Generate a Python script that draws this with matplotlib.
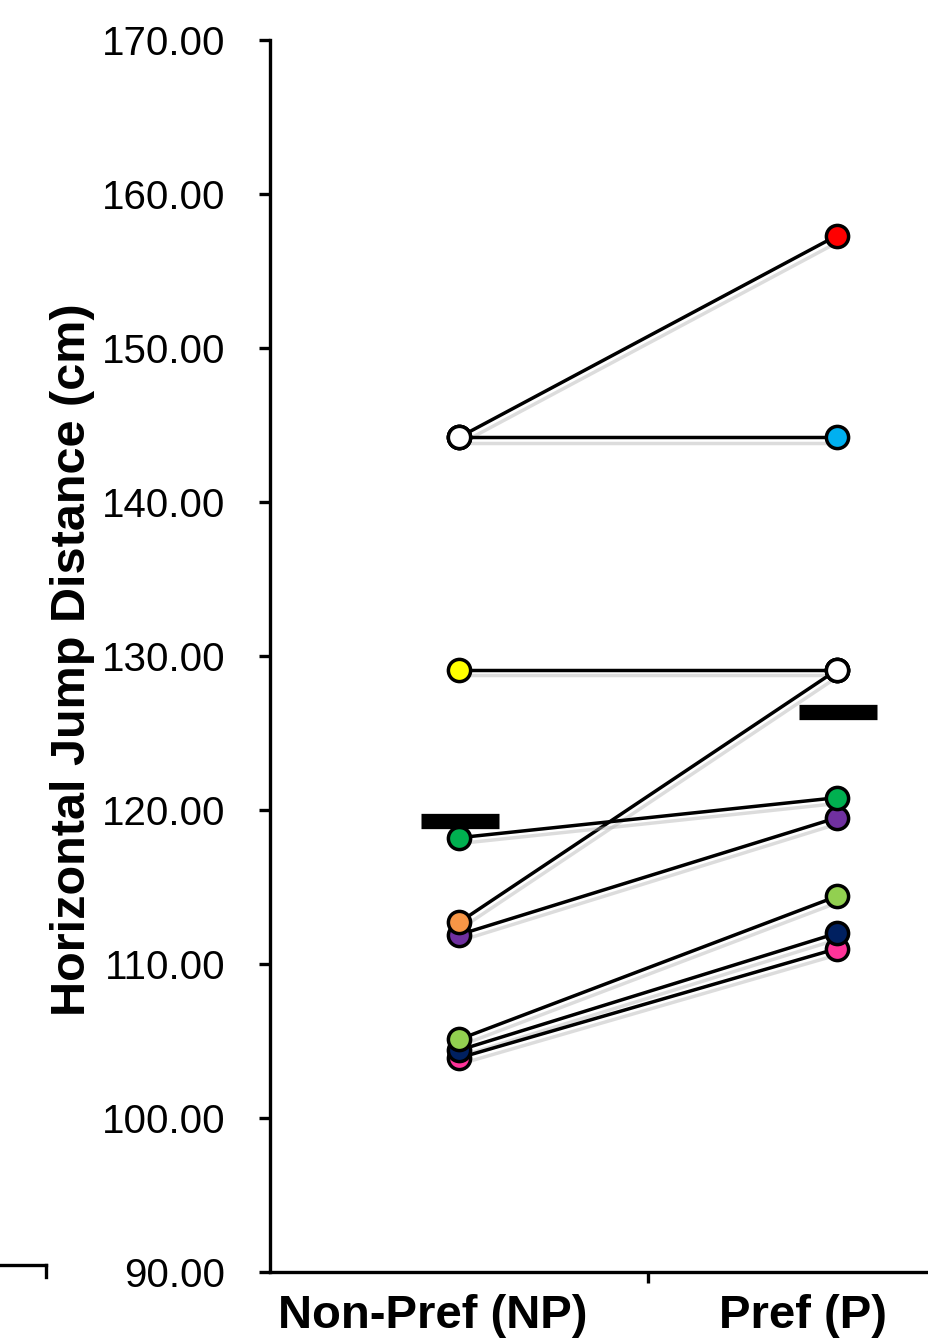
import matplotlib
matplotlib.use("Agg")
import matplotlib.pyplot as plt
import matplotlib.patheffects as pe
from matplotlib.lines import Line2D
from matplotlib.transforms import ScaledTranslation
import numpy as np

plt.rcParams['font.family'] = ['Liberation Sans', 'DejaVu Sans']

# 数据：每位受试者的非优势侧 / 优势侧跳远距离 (cm)
categories = ["Non-Pref (NP)", "Pref (P)"]
np_values = [144.2, 144.2, 129.1, 112.7, 118.2, 111.9, 105.1, 104.4, 103.9]
p_values = [157.3, 144.2, 129.1, 129.1, 120.8, 119.5, 114.4, 112.0, 111.0]
subject_colors = ["#FF0000", "#00B0F0", "#FFFF00", "#F79646", "#00B050",
                  "#7030A0", "#92D050", "#002060", "#FF3399"]
# 重叠点用白色空心圈标记
overlap_np = [144.2]
overlap_p = [129.1]

fig = plt.figure(figsize=(9.29, 13.39), dpi=100)
ax = fig.add_axes([270 / 929, 67 / 1339, 756 / 929, 1232 / 1339])

x_np, x_p = 0.5, 1.5
shadow = [pe.SimpleLineShadow(offset=(2, -4), shadow_color="0.7", alpha=0.45), pe.Normal()]

# 连线
for a, b in zip(np_values, p_values):
    ax.plot([x_np, x_p], [a, b], color="black", lw=2.5, zorder=2, path_effects=shadow)

# 点（后面的画在下面）
order = [8, 7, 6, 5, 3, 4, 2, 1, 0]
for i in order:
    ax.plot([x_np], [np_values[i]], "o", ms=16, mfc=subject_colors[i], mec="black",
            mew=2.5, zorder=3)
    ax.plot([x_p], [p_values[i]], "o", ms=16, mfc=subject_colors[i], mec="black",
            mew=2.5, zorder=3)
for v in overlap_np:
    ax.plot([x_np], [v], "o", ms=16, mfc="white", mec="black", mew=2.5, zorder=4)
for v in overlap_p:
    ax.plot([x_p], [v], "o", ms=16, mfc="white", mec="black", mew=2.5, zorder=4)

# 均值横条
means = [np.mean(np_values), np.mean(p_values)]
for xc, m in zip([x_np, x_p], means):
    ax.plot([xc - 0.1, xc + 0.105], [m, m], color="black", lw=11,
            solid_capstyle="butt", zorder=5)

ax.set_xlim(0, 2)
ax.set_ylim(90, 170)
ax.set_yticks(np.arange(90, 171, 10))
ax.set_yticklabels([f"{v:.2f}" for v in np.arange(90, 171, 10)], fontsize=29)
ax.tick_params(axis="y", direction="out", length=8, width=2.4, pad=24)

ax.set_xticks([1])
ax.set_xticklabels([""])
ax.tick_params(axis="x", which="major", direction="out", length=8, width=2.4)
ax.set_xticks([x_np, x_p], minor=True)
ax.set_xticklabels(categories, minor=True, fontsize=34, fontweight="bold")
ax.tick_params(axis="x", which="minor", length=0, pad=16)
offsets = [-26, -34]
for lab, dx in zip(ax.get_xticklabels(minor=True), offsets):
    lab.set_transform(lab.get_transform() + ScaledTranslation(dx / 100, 0, fig.dpi_scale_trans))

ax.set_ylabel("Horizontal Jump Distance (cm)", fontsize=35, fontweight="bold")
ax.yaxis.set_label_coords(-0.232, 0.497)

for s in ["top", "right"]:
    ax.spines[s].set_visible(False)
for s in ["left", "bottom"]:
    ax.spines[s].set_linewidth(2.4)

# 左下角相邻图残留的坐标轴
fig.add_artist(Line2D([0, 46 / 929], [74 / 1339, 74 / 1339], color="black", lw=2.4))
fig.add_artist(Line2D([46 / 929, 46 / 929], [74 / 1339, 62 / 1339], color="black", lw=2.4))

fig.savefig("out.png", dpi=100)
